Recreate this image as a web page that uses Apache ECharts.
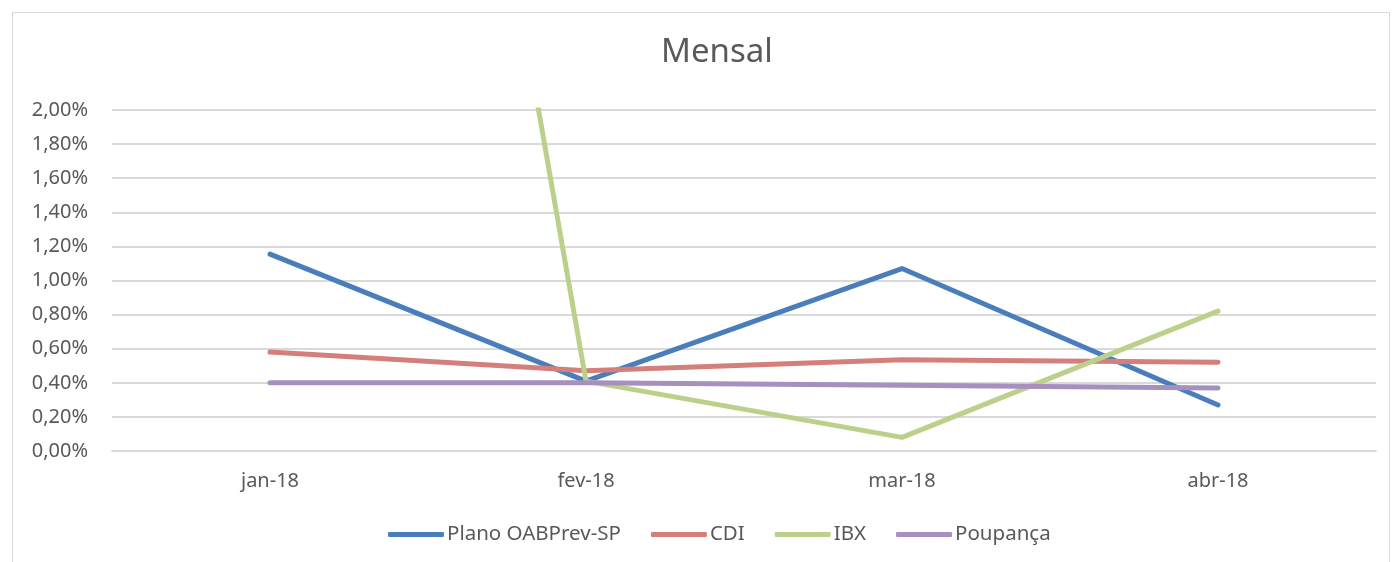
<!DOCTYPE html>
<html>
<head>
<meta charset="utf-8">
<script src="https://cdn.jsdelivr.net/npm/echarts@6/dist/echarts.min.js"></script>
<style>
  html, body { margin: 0; padding: 0; background: #fff; }
  #frame { position: absolute; left: 12px; top: 12px; width: 1378px; height: 580px; border: 1px solid #d9d9d9; box-sizing: border-box; }
  #chart { position: absolute; left: 0; top: 0; width: 1400px; height: 562px; }
</style>
</head>
<body>
<div id="frame"></div>
<div id="chart"></div>
<script>
// dados mensais (%)
var categories = ['jan-18', 'fev-18', 'mar-18', 'abr-18'];
var plano = [1.155, 0.41, 1.07, 0.27];
var cdi = [0.58, 0.47, 0.535, 0.52];
var ibx = [11.0, 0.41, 0.08, 0.82];
var poupanca = [0.40, 0.40, 0.385, 0.37];
var yTicks = { min: 0, max: 2, interval: 0.2 };

var font = 'Noto Sans';
var textColor = '#595959';

function mkSeries(name, data, color) {
  return {
    name: name,
    type: 'line',
    data: data,
    symbol: 'none',
    clip: true,
    lineStyle: { width: 5, color: color, cap: 'round', join: 'round' },
    itemStyle: { color: color }
  };
}

var chart = echarts.init(document.getElementById('chart'));
chart.setOption({
  animation: false,
  textStyle: { fontFamily: font },
  title: {
    text: 'Mensal',
    left: 656,
    top: 31,
    textStyle: { fontFamily: font, fontSize: 33, fontWeight: 'normal', color: textColor }
  },
  legend: {
    bottom: 12,
    left: 383,
    itemWidth: 56,
    itemHeight: 5,
    itemGap: 30,
    icon: 'roundRect',
    textStyle: { fontFamily: font, fontSize: 20.5, color: textColor, padding: [0, 0, 0, -2] },
    data: ['Plano OABPrev-SP', 'CDI', 'IBX', 'Poupança']
  },
  grid: { left: 112, right: 24, top: 110, bottom: 111, containLabel: false },
  xAxis: {
    type: 'category',
    data: categories,
    boundaryGap: true,
    axisLine: { show: true, lineStyle: { color: '#d9d9d9', width: 2 } },
    axisTick: { show: false },
    axisLabel: { color: textColor, fontSize: 20, fontFamily: font, margin: 20 }
  },
  yAxis: {
    type: 'value',
    min: yTicks.min,
    max: yTicks.max,
    interval: yTicks.interval,
    axisLine: { show: false },
    axisTick: { show: false },
    splitLine: { lineStyle: { color: '#d9d9d9', width: 2 } },
    axisLabel: {
      color: textColor, fontSize: 20, fontFamily: font, margin: 24,
      formatter: function (v) { return v.toFixed(2).replace('.', ',') + '%'; }
    }
  },
  series: [
    mkSeries('Plano OABPrev-SP', plano, '#4a7ebb'),
    mkSeries('CDI', cdi, '#d47f7b'),
    mkSeries('IBX', ibx, '#bbd18b'),
    mkSeries('Poupança', poupanca, '#a590c0')
  ]
});
</script>
</body>
</html>
